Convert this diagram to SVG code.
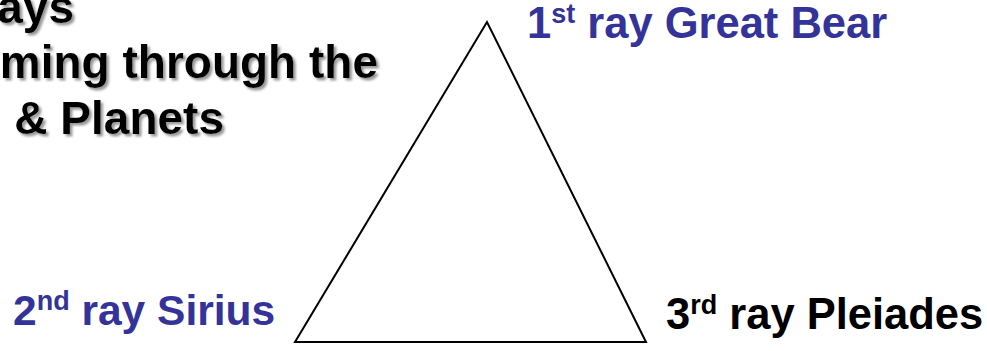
<svg xmlns="http://www.w3.org/2000/svg" width="987" height="351" viewBox="0 0 987 351">
  <style>
    .title { font-family: "Liberation Sans", Arial, sans-serif; font-weight: bold; font-size: 46px; fill: #000000; }
    .lbl { font-family: "Liberation Sans", Arial, sans-serif; font-weight: bold; font-size: 43.5px; }
    .blue { fill: #333399; }
    .black { fill: #000000; }
    .sup { font-size: 27px; }
    .edge { fill: none; stroke: #000000; stroke-width: 2; stroke-linejoin: miter; }
  </style>
  <defs>
    <filter id="shadow" x="-10%" y="-20%" width="120%" height="150%">
      <feDropShadow dx="2.5" dy="2.5" stdDeviation="1.2" flood-color="#7f7f7f" flood-opacity="0.8"/>
    </filter>
  </defs>
  <rect width="987" height="351" fill="#ffffff"/>
  <g id="title" filter="url(#shadow)">
    <text class="title" x="74" y="23" text-anchor="end">ays</text>
    <text class="title" x="378" y="78" text-anchor="end">ming through the</text>
    <text class="title" x="224" y="134" text-anchor="end">&amp; Planets</text>
  </g>
  <g id="connectors">
    <polygon class="edge" points="487,22 295,342 646,342"/>
  </g>
  <g id="ray1">
    <text class="lbl blue" x="527" y="38">1<tspan class="sup" dy="-15">st</tspan><tspan dy="15"> ray Great Bear</tspan></text>
  </g>
  <g id="ray2">
    <text class="lbl blue" x="13" y="325" style="font-size:42.5px">2<tspan class="sup" dy="-15">nd</tspan><tspan dy="15"> ray Sirius</tspan></text>
  </g>
  <g id="ray3">
    <text class="lbl black" x="666" y="329">3<tspan class="sup" dy="-15">rd</tspan><tspan dy="15"> ray Pleiades</tspan></text>
  </g>
</svg>
